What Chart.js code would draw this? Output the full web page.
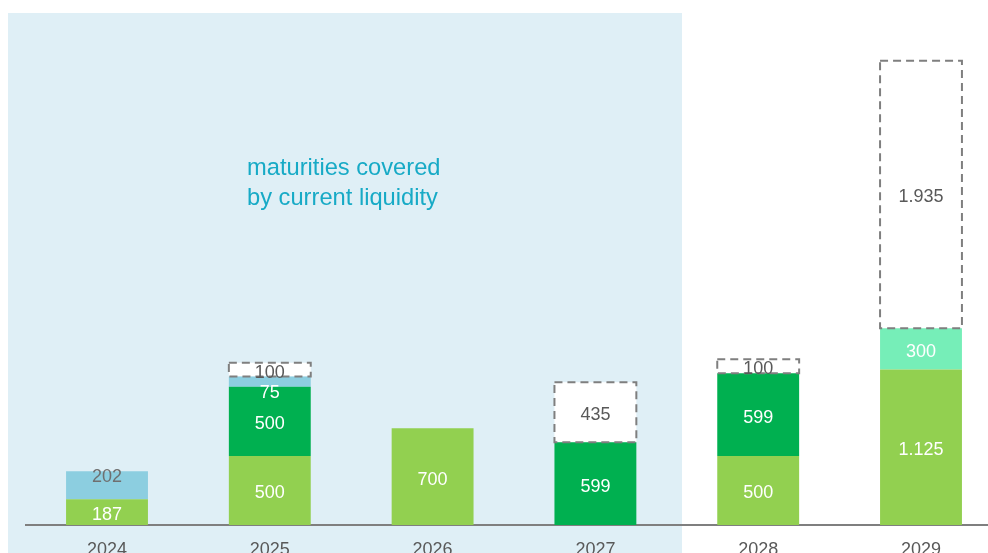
<!DOCTYPE html>
<html>
<head>
<meta charset="utf-8">
<script src="https://cdn.jsdelivr.net/npm/chart.js@4"></script>
<style>
  html, body { margin: 0; padding: 0; background: #ffffff; overflow: hidden; }
  #wrap { position: relative; width: 1010px; height: 560px; }
</style>
</head>
<body>
<div id="wrap"><canvas id="chart" width="1010" height="560"></canvas></div>
<script>
let years = ["2024", "2025", "2026", "2027", "2028", "2029"];
let lightGreen = [187, 500, 700, 0, 500, 1125];
let darkGreen = [0, 500, 0, 599, 599, 0];
let lightBlue = [202, 75, 0, 0, 0, 0];
let mint = [0, 0, 0, 0, 0, 300];
let openAmount = [0, 100, 0, 435, 100, 1935];

let labelColors = ["#ffffff", "#ffffff", "#6f6f6f", "#ffffff", "#595959"];

function fmt(v) {
  return v.toString().replace(/\B(?=(\d{3})+(?!\d))/g, ".");
}

// small labels that sit off-centre in the original
function nudge(d, i) {
  if (d == 2 && i == 0) return -8;
  if (d == 2 && i == 1) return 11;
  return 3;
}

// shaded area + caption, painted first so axis sits on top
let backdrop = {
  id: "backdrop",
  beforeDraw(c) {
    let ctx = c.ctx;
    ctx.save();
    ctx.fillStyle = "#dfeff6";
    ctx.fillRect(8, 13, 674, 560);
    ctx.fillStyle = "#17aac6";
    ctx.font = "23.7px 'Liberation Sans', Arial, sans-serif";
    ctx.textBaseline = "middle";
    ctx.fillText("maturities covered", 247, 168);
    ctx.fillText("by current liquidity", 247, 198);
    ctx.restore();
  }
};

// dashed outlines for the last dataset + value labels
let marks = {
  id: "marks",
  afterDatasetsDraw(c) {
    let ctx = c.ctx;
    ctx.save();
    let meta = c.getDatasetMeta(4);
    ctx.strokeStyle = "#7f7f7f";
    ctx.lineWidth = 2;
    ctx.setLineDash([8, 5]);
    meta.data.forEach((bar, i) => {
      if (!openAmount[i]) return;
      let x0 = bar.x - bar.width / 2;
      ctx.strokeRect(x0, bar.y, bar.width, bar.base - bar.y);
    });
    ctx.setLineDash([]);

    ctx.font = "18px 'Liberation Sans', Arial, sans-serif";
    ctx.textAlign = "center";
    ctx.textBaseline = "middle";
    c.data.datasets.forEach((ds, d) => {
      let m = c.getDatasetMeta(d);
      m.data.forEach((bar, i) => {
        let v = ds.data[i];
        if (!v) return;
        ctx.fillStyle = labelColors[d];
        if (d == 2 && i == 1) ctx.fillStyle = "#ffffff";
        ctx.fillText(fmt(v), bar.x, (bar.y + bar.base) / 2 + nudge(d, i));
      });
    });
    ctx.restore();
  }
};

let ctx = document.getElementById("chart").getContext("2d");
let chart = new Chart(ctx, {
  type: "bar",
  data: {
    labels: years,
    datasets: [
      { label: "a", data: lightGreen, backgroundColor: "#92d050" },
      { label: "b", data: darkGreen, backgroundColor: "#00b050" },
      { label: "c", data: lightBlue, backgroundColor: "#8ccee0" },
      { label: "d", data: mint, backgroundColor: "#76eeb8" },
      { label: "e", data: openAmount, backgroundColor: "#ffffff" }
    ]
  },
  options: {
    responsive: false,
    animation: false,
    layout: { padding: { left: 25.6, right: 7.6, top: 0, bottom: 0 } },
    datasets: { bar: { categoryPercentage: 1, barPercentage: 0.503, borderWidth: 0 } },
    plugins: { legend: { display: false }, tooltip: { enabled: false } },
    scales: {
      x: {
        stacked: true,
        grid: { display: false, drawTicks: false },
        border: { display: true, color: "#7f7f7f", width: 2 },
        ticks: {
          color: "#595959",
          padding: 14,
          font: { family: "'Liberation Sans', Arial, sans-serif", size: 18 }
        },
        afterFit(s) { s.height = 35; }
      },
      y: {
        stacked: true,
        display: false,
        min: 0,
        max: 3800
      }
    }
  },
  plugins: [backdrop, marks]
});
</script>
</body>
</html>
